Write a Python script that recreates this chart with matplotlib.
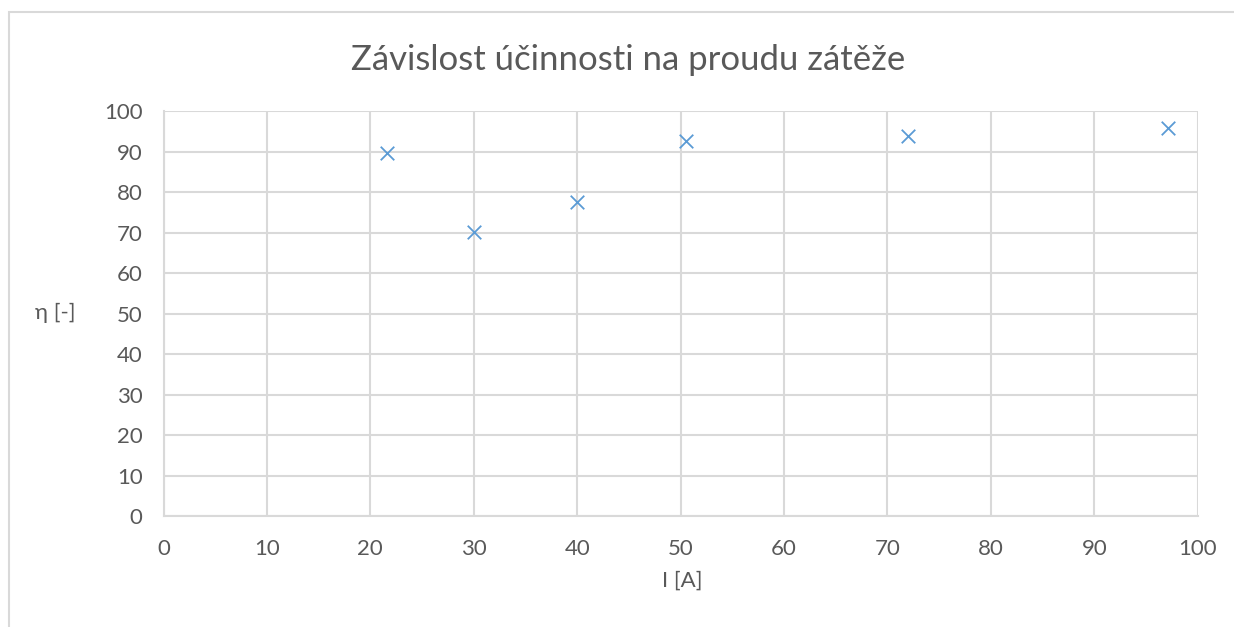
import matplotlib.pyplot as plt
from matplotlib.patches import Rectangle

# measured load current and efficiency
current = [21.6, 30.0, 40.0, 50.5, 72.0, 97.1]
efficiency = [89.7, 70.2, 77.6, 92.7, 93.9, 95.9]

x_ticks = [0, 10, 20, 30, 40, 50, 60, 70, 80, 90, 100]
y_ticks = [0, 10, 20, 30, 40, 50, 60, 70, 80, 90, 100]

TEXT = '#595959'
GRID = '#D9D9D9'
BLUE = '#5B9BD5'

plt.rcParams['font.family'] = ['Lato', 'DejaVu Sans']

W, H = 1234, 627
fig = plt.figure(figsize=(W / 100, H / 100), dpi=100)

# chart border (runs off the right and bottom edge)
fig.patches.append(Rectangle((8.5 / W, -0.2), 1.2, 1.2 - 12 / H,
                             transform=fig.transFigure, fill=False,
                             edgecolor=GRID, linewidth=1.5))

ax = fig.add_axes([163.5 / W, 1 - 516.3 / H, (1197.7 - 163.5) / W, (516.3 - 111) / H])
ax.scatter(current, efficiency, marker='x', s=95, color=BLUE, linewidths=1.3, zorder=3)

ax.set_xlim(0, 100)
ax.set_ylim(0, 100)
ax.set_xticks(x_ticks)
ax.set_yticks(y_ticks)
ax.grid(True, color=GRID, linewidth=1.5)
ax.set_axisbelow(True)
ax.tick_params(length=0, labelsize=16, labelcolor=TEXT)
ax.tick_params(axis='x', pad=16)
ax.tick_params(axis='y', pad=15)
for side in ['top', 'right']:
    ax.spines[side].set_visible(False)
for side in ['left', 'bottom']:
    ax.spines[side].set_color(GRID)
    ax.spines[side].set_linewidth(1.5)

fig.text(628 / W, 1 - 60 / H, 'Závislost účinnosti na proudu zátěže',
         ha='center', va='center', fontsize=25, color=TEXT)
fig.text(682 / W, 1 - 581 / H, 'I [A]', ha='center', va='center',
         fontsize=16, color=TEXT)
fig.text(55 / W, 1 - 313 / H, 'η [-]', ha='center', va='center',
         fontsize=16, color=TEXT)

fig.savefig('out.png', dpi=100)
